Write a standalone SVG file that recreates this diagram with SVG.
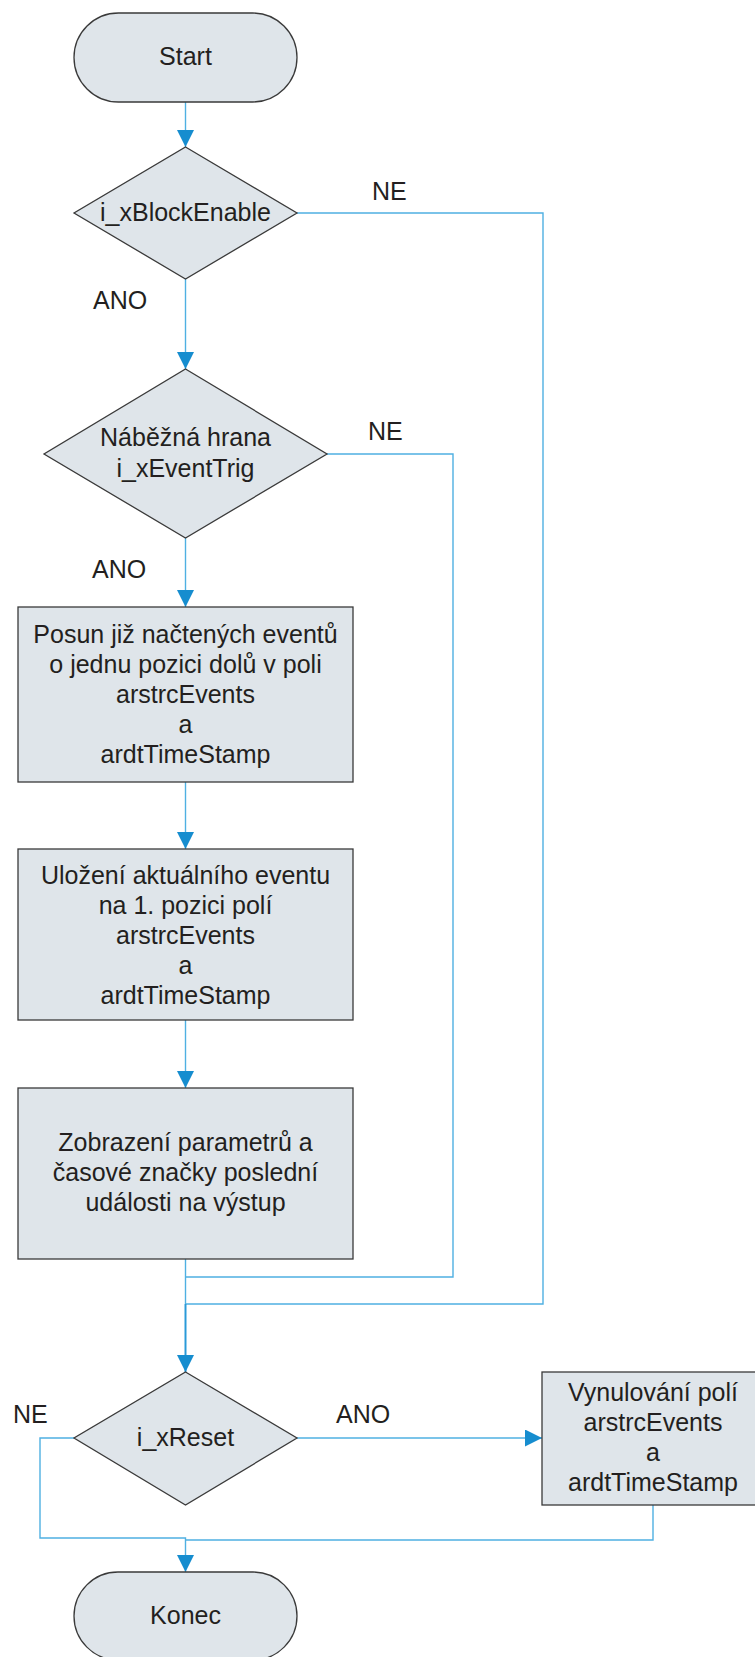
<svg xmlns="http://www.w3.org/2000/svg" width="755" height="1657" viewBox="0 0 755 1657">
  <defs>
    <marker id="arrow" markerUnits="userSpaceOnUse" markerWidth="18" markerHeight="18" refX="17" refY="8.5" orient="auto">
      <path d="M0,0 L17,8.5 L0,17 z" fill="#168dcf"/>
    </marker>
    <style>
      .shape { fill: #dfe5ea; stroke: #3a3a3a; stroke-width: 1.3; }
      .lbl { font-family: "Liberation Sans", Arial, sans-serif; font-size: 25px; fill: #231f20; }
      .mid { text-anchor: middle; }
      .edge { fill: none; stroke: #4fb0e2; stroke-width: 1.4; }
      .edge-main { fill: none; stroke: #2a9ad8; stroke-width: 2; }
    </style>
  </defs>
  <rect width="755" height="1657" fill="#ffffff"/>

  <!-- connectors -->
  <g id="connectors">
    <path class="edge" d="M185.5,102 V147" marker-end="url(#arrow)"/>
    <path class="edge" d="M185.5,279 V369" marker-end="url(#arrow)"/>
    <path class="edge" d="M297,213 H543 V1304 H185.5"/>
    <path class="edge" d="M185.5,538 V607" marker-end="url(#arrow)"/>
    <path class="edge" d="M327,454 H453 V1277 H185.5"/>
    <path class="edge" d="M185.5,782 V849" marker-end="url(#arrow)"/>
    <path class="edge" d="M185.5,1020 V1088" marker-end="url(#arrow)"/>
    <path class="edge" d="M185.5,1259 V1304"/>
    <path class="edge-main" d="M185.5,1304 V1372" marker-end="url(#arrow)"/>
    <path class="edge" d="M297,1438 H542" marker-end="url(#arrow)"/>
    <path class="edge" d="M74,1438 H40 V1538 H185.5 V1572" marker-end="url(#arrow)"/>
    <path class="edge" d="M653,1505 V1540 H185.5"/>
  </g>

  <!-- edge labels -->
  <g id="edge-labels" class="lbl">
    <text x="372" y="200">NE</text>
    <text x="93" y="309">ANO</text>
    <text x="368" y="440">NE</text>
    <text x="92" y="578">ANO</text>
    <text x="13" y="1423">NE</text>
    <text x="336" y="1423">ANO</text>
  </g>

  <g id="start">
    <rect class="shape" x="74" y="13" width="223" height="89" rx="44.5" ry="44.5"/>
    <text class="lbl mid" x="185.5" y="65">Start</text>
  </g>

  <g id="block-enable">
    <polygon class="shape" points="185.5,147 297,213 185.5,279 74,213"/>
    <text class="lbl mid" x="185.5" y="221">i_xBlockEnable</text>
  </g>

  <g id="event-trig">
    <polygon class="shape" points="185.5,369 327,454 185.5,538 44,454"/>
    <text class="lbl mid" x="185.5" y="446">Náběžná hrana</text>
    <text class="lbl mid" x="185.5" y="477">i_xEventTrig</text>
  </g>

  <g id="shift-events">
    <rect class="shape" x="18" y="607" width="335" height="175"/>
    <text class="lbl mid" x="185.5" y="643">Posun již načtených eventů</text>
    <text class="lbl mid" x="185.5" y="673">o jednu pozici dolů v poli</text>
    <text class="lbl mid" x="185.5" y="703">arstrcEvents</text>
    <text class="lbl mid" x="185.5" y="733">a</text>
    <text class="lbl mid" x="185.5" y="763">ardtTimeStamp</text>
  </g>

  <g id="store-event">
    <rect class="shape" x="18" y="849" width="335" height="171"/>
    <text class="lbl mid" x="185.5" y="884">Uložení aktuálního eventu</text>
    <text class="lbl mid" x="185.5" y="914">na 1. pozici polí</text>
    <text class="lbl mid" x="185.5" y="944">arstrcEvents</text>
    <text class="lbl mid" x="185.5" y="974">a</text>
    <text class="lbl mid" x="185.5" y="1004">ardtTimeStamp</text>
  </g>

  <g id="show-output">
    <rect class="shape" x="18" y="1088" width="335" height="171"/>
    <text class="lbl mid" x="185.5" y="1151">Zobrazení parametrů a</text>
    <text class="lbl mid" x="185.5" y="1181">časové značky poslední</text>
    <text class="lbl mid" x="185.5" y="1211">události na výstup</text>
  </g>

  <g id="reset">
    <polygon class="shape" points="185.5,1372 297,1438 185.5,1505 74,1438"/>
    <text class="lbl mid" x="185.5" y="1446">i_xReset</text>
  </g>

  <g id="clear-arrays">
    <rect class="shape" x="542" y="1372" width="222" height="133"/>
    <text class="lbl mid" x="653" y="1401">Vynulování polí</text>
    <text class="lbl mid" x="653" y="1431">arstrcEvents</text>
    <text class="lbl mid" x="653" y="1461">a</text>
    <text class="lbl mid" x="653" y="1491">ardtTimeStamp</text>
  </g>

  <g id="end">
    <rect class="shape" x="74" y="1572" width="223" height="88" rx="44" ry="44"/>
    <text class="lbl mid" x="185.5" y="1624">Konec</text>
  </g>
</svg>
